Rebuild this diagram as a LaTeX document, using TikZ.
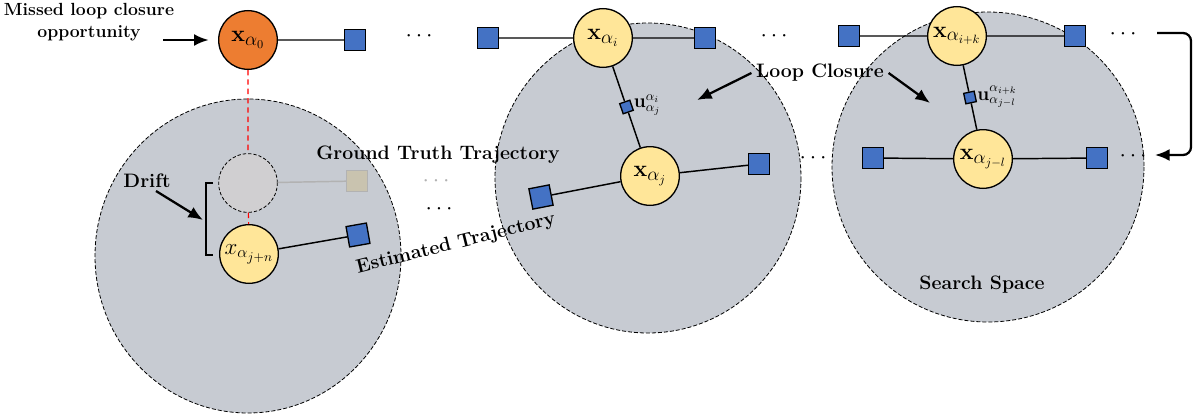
\documentclass[tikz,border=0pt]{standalone}
\usepackage{amsmath}
\usepackage{amssymb}
\usetikzlibrary{arrows.meta,positioning}
\definecolor{poseyellow}{HTML}{FFE699}
\definecolor{missorange}{HTML}{ED7D31}
\definecolor{facblue}{HTML}{4472C4}
\definecolor{areagray}{HTML}{C7CBD2}
\definecolor{ghostgray}{HTML}{D0CFD1}
\definecolor{ghosttan}{HTML}{C9C3AF}
\tikzset{
  pose/.style={circle,draw,line width=1pt,fill=poseyellow,minimum size=44pt,inner sep=0pt,font=\fontsize{19}{22}\selectfont},
  missed/.style={pose,fill=missorange},
  ghost/.style={pose,dash pattern=on 2.5pt off 1.5pt,semithick,fill=ghostgray},
  fac/.style={rectangle,draw,line width=1pt,fill=facblue,minimum size=15.5pt,inner sep=0pt},
  smallfac/.style={fac,minimum size=8pt},
  ghostfac/.style={fac,draw=black!30,fill=ghosttan},
  searcharea/.style={draw,semithick,dash pattern=on 3pt off 1.5pt,fill=areagray},
  lbl/.style={font=\fontsize{14.6}{17}\selectfont\bfseries},
  link/.style={line width=1.1pt},
  pointer/.style={-{Latex[length=11pt,width=9pt]},line width=1.7pt},
  dots/.style={font=\LARGE}
}
\begin{document}
\begin{tikzpicture}[x=0.75pt,y=-0.75pt]
\useasboundingbox (0,0) rectangle (1196,414);
\draw[searcharea] (248,256) ellipse [x radius=153, y radius=157];
\draw[searcharea] (648,178) ellipse [x radius=153, y radius=155];
\draw[searcharea] (988,167) ellipse [x radius=156, y radius=155];

\node[missed] (x0) at (248,40) {$\mathbf{x}_{\alpha_0}$};
\node[fac] (f0) at (355,40) {};
\node[fac] (f1) at (488,38) {};
\node[pose] (xi) at (603,38) {$\mathbf{x}_{\alpha_i}$};
\node[fac] (f2) at (705,38) {};
\node[fac] (f3) at (849,36) {};
\node[pose] (xik) at (957,36) {$\mathbf{x}_{\alpha_{i+k}}$};
\node[fac] (f4) at (1075,36) {};
\node[pose] (xjl) at (983,159) {$\mathbf{x}_{\alpha_{j-l}}$};
\node[fac] (f5) at (873,158) {};
\node[fac] (f6) at (1097,158) {};
\node[pose] (xj) at (650,176) {$\mathbf{x}_{\alpha_j}$};
\node[fac,rotate=11] (f7) at (541,197) {};
\node[fac] (f8) at (759,164) {};
\node[ghost] (g) at (248,183) {};
\node[ghostfac] (gf) at (357,181) {};
\node[pose,font=\LARGE] (xjn) at (249,254) {$x_{\alpha_{j+n}}$};
\node[fac,rotate=10] (f9) at (358,235) {};

\draw[link] (x0) -- (f0) (f1) -- (xi) -- (f2) (f3) -- (xik) -- (f4)
  (f5) -- (xjl) -- (f6) (f7) -- (xj) -- (f8) (xjn) -- (f9);
\draw[link,black!30] (g) -- (gf);
\draw[red,thick,dash pattern=on 4pt off 3pt] (x0) -- (g) (g) -- (xjn);

\path (xi) -- node[smallfac,rotate=19] (ui) {} (xj);
\path (xik) -- node[smallfac,rotate=12] (uik) {} (xjl);
\draw[link] (xi) -- (ui) -- (xj) (xik) -- (uik) -- (xjl);
\node[right=0pt of ui,inner sep=1pt,font=\Large] (uilbl) {$\mathbf{u}^{\alpha_i}_{\alpha_j}$};
\node[right=0pt of uik,inner sep=1pt,font=\Large] (uiklbl) {$\mathbf{u}^{\alpha_{i+k}}_{\alpha_{j-l}}$};

\node[dots] (d1) at (421,36) {$\cdots$};
\node[dots] (d2) at (776,36) {$\cdots$};
\node[dots] (d3) at (1125,34) {$\cdots$};
\node[dots] (d4) at (815,158) {$\cdots$};
\node[dots] (d5) at (1135,156) {$\cdots$};
\node[dots,text=black!30] (d6) at (438,181) {$\cdots$};
\node[dots] (d7) at (441,209) {$\cdots$};

\node[lbl,font=\fontsize{13.2}{16}\selectfont\bfseries,align=center] (miss) at (89,22) {Missed loop closure\\opportunity};
\coordinate (missTail) at (163,40);
\draw[pointer] (missTail) -- ([xshift=-7pt]x0.west);

\node[lbl] (drift) at (147,181) {Drift};
\coordinate (driftTail) at (156,191);
\coordinate (driftHead) at (203,220);
\draw[pointer] (driftTail) -- (driftHead);
\draw[link] (213,183) -- (206,183) -- (206,255) -- (213,255);

\node[lbl] (gt) at (438,155) {Ground Truth Trajectory};
\node[lbl,rotate=14] (est) at (456,244) {Estimated Trajectory};

\node[lbl] (loop) at (820,73) {Loop Closure};
\coordinate (loopA) at (697,100);
\coordinate (loopB) at (930,103);
\draw[pointer] (loop.west) -- (loopA);
\draw[pointer] (loop.east) -- (loopB);

\node[lbl] (search) at (982,285) {Search Space};

\coordinate (wrapA) at (1157,33);
\coordinate (wrapB) at (1155,155);
\draw[pointer,rounded corners=6pt] (wrapA) -- ++(34,0) |- (wrapB);
\end{tikzpicture}
\end{document}
